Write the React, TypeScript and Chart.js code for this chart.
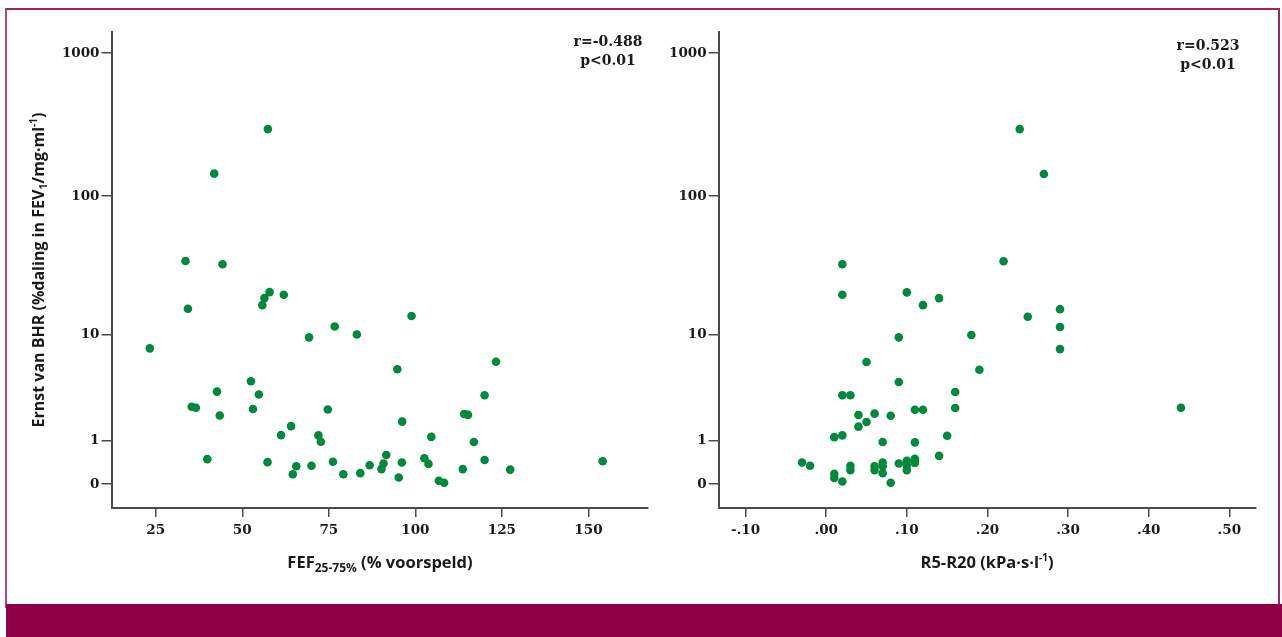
import React, { useEffect, useRef } from "react";
import { Chart, registerables } from "chart.js";

Chart.register(...registerables);

// ---------- data ----------
const yTickValues = [0, 1, 10, 100, 1000];
const yTickLabels = ["0", "1", "10", "100", "1000"];

const fefTicks = [25, 50, 75, 100, 125, 150];
const fefTickLabels = ["25", "50", "75", "100", "125", "150"];

const r5Ticks = [-0.1, 0, 0.1, 0.2, 0.3, 0.4, 0.5];
const r5TickLabels = ["-.10", ".00", ".10", ".20", ".30", ".40", ".50"];

// FEF25-75% (% voorspeld) vs Ernst van BHR
const fefX = [57.4, 41.9, 33.6, 44.3, 57.9, 56.4, 55.8, 62.0, 34.3, 98.9, 76.7, 69.3, 83.1, 23.3, 52.5, 42.7, 54.8, 35.4, 36.6, 43.5, 53.1, 74.7, 64.1, 61.2, 72.0, 72.7, 39.9, 57.3, 65.6, 64.6, 70.0, 76.2, 79.2, 84.1, 86.8, 94.8, 123.3, 120.0, 96.2, 114.1, 115.2, 104.6, 116.9, 91.6, 90.8, 90.2, 96.1, 95.2, 102.6, 103.8, 106.8, 108.3, 113.7, 120.0, 127.4, 154.1];
const fefY = [295, 144, 34.7, 32.9, 20.7, 18.7, 16.6, 19.8, 15.6, 13.8, 11.5, 9.5, 10.0, 7.8, 4.2, 3.4, 3.2, 2.45, 2.4, 2.0, 2.33, 2.3, 1.53, 1.19, 1.18, 0.97, 0.49, 0.42, 0.33, 0.17, 0.34, 0.43, 0.17, 0.19, 0.35, 5.3, 6.1, 3.15, 1.72, 2.07, 2.03, 1.13, 0.96, 0.59, 0.39, 0.27, 0.41, 0.11, 0.51, 0.38, 0.054, 0.02, 0.27, 0.47, 0.26, 0.44];

// R5-R20 (kPa·s·l-1) vs Ernst van BHR
const r5X = [0.24, 0.27, 0.02, 0.02, 0.22, 0.10, 0.12, 0.14, 0.25, 0.29, 0.29, 0.18, 0.29, 0.19, 0.44, 0.09, 0.05, 0.09, 0.02, 0.03, 0.16, 0.16, 0.11, 0.12, 0.04, 0.06, 0.08, 0.05, 0.04, 0.01, 0.02, 0.07, 0.11, 0.15, 0.14, -0.03, -0.02, 0.01, 0.01, 0.02, 0.03, 0.03, 0.06, 0.06, 0.07, 0.07, 0.07, 0.08, 0.09, 0.10, 0.10, 0.11, 0.11, 0.10, 0.11];
const r5Y = [295, 143, 32.9, 19.8, 34.6, 20.6, 16.6, 18.7, 13.6, 15.5, 11.4, 9.9, 7.7, 5.25, 2.4, 9.5, 6.07, 4.13, 3.15, 3.15, 3.37, 2.38, 2.29, 2.29, 2.02, 2.09, 1.99, 1.70, 1.51, 1.12, 1.18, 0.96, 0.95, 1.17, 0.57, 0.41, 0.34, 0.18, 0.10, 0.04, 0.34, 0.25, 0.33, 0.25, 0.41, 0.33, 0.19, 0.02, 0.39, 0.45, 0.25, 0.45, 0.40, 0.35, 0.5];

const leftStats = ["r=-0.488", "p<0.01"];
const rightStats = ["r=0.523", "p<0.01"];

// ---------- styling ----------
const GREEN = "#00893c";
const AXIS = "#4a4a4a";
const TEXT = "#1a1a1a";
const MAROON = "#900048";
const TICK_FONT = "'DejaVu Serif'";
const TITLE_FONT = "'Open Sans'";

// log10(v + 1) transform used by the y axis
const tf = (v: number) => Math.log10(v + 1);

type Seg = { t: string; size: number; dy: number };

function drawRich(ctx: CanvasRenderingContext2D, segs: Seg[], cx: number, baseline: number, weight: string, family: string) {
  let total = 0;
  const widths = segs.map((s) => {
    ctx.font = `${weight} ${s.size}px ${family}`;
    const w = ctx.measureText(s.t).width;
    total += w;
    return w;
  });
  let x = cx - total / 2;
  ctx.textBaseline = "alphabetic";
  ctx.textAlign = "left";
  segs.forEach((s, i) => {
    ctx.font = `${weight} ${s.size}px ${family}`;
    ctx.fillText(s.t, x, baseline + s.dy);
    x += widths[i];
  });
}

type PanelOpts = {
  xs: number[];
  ys: number[];
  xMin: number;
  xMax: number;
  xTicks: number[];
  xLabels: string[];
  yAxisWidth: number;
  padRight: number;
  drawText: (ctx: CanvasRenderingContext2D) => void;
};

function makeConfig(o: PanelOpts): any {
  const tickFont = { family: TICK_FONT, size: 13.5, weight: "bold" as const };
  return {
    type: "scatter",
    data: {
      datasets: [
        {
          data: o.xs.map((x, i) => ({ x, y: tf(o.ys[i]) })),
          backgroundColor: GREEN,
          borderWidth: 0,
          pointRadius: 4.3,
          pointHoverRadius: 4.3,
        },
      ],
    },
    options: {
      responsive: false,
      animation: false,
      events: [],
      layout: { padding: { left: 0, top: 32, right: o.padRight, bottom: 0 } },
      plugins: { legend: { display: false }, tooltip: { enabled: false } },
      scales: {
        x: {
          type: "linear",
          min: o.xMin,
          max: o.xMax,
          afterFit: (s: any) => {
            s.height = 96;
          },
          afterBuildTicks: (s: any) => {
            s.ticks = o.xTicks.map((v) => ({ value: v }));
          },
          ticks: {
            callback: (_v: any, i: number) => o.xLabels[i],
            font: tickFont,
            color: TEXT,
            padding: 5,
            maxRotation: 0,
            autoSkip: false,
          },
          grid: {
            display: true,
            drawOnChartArea: false,
            drawTicks: true,
            tickLength: 9,
            color: AXIS,
            lineWidth: 1.5,
          },
          border: { display: true, color: AXIS, width: 2 },
        },
        y: {
          type: "linear",
          min: -0.1671,
          max: 3.1476,
          afterFit: (s: any) => {
            s.width = o.yAxisWidth;
          },
          afterBuildTicks: (s: any) => {
            s.ticks = yTickValues.map((v) => ({ value: tf(v) }));
          },
          ticks: {
            callback: (_v: any, i: number) => yTickLabels[i],
            font: tickFont,
            color: TEXT,
            padding: 2,
            autoSkip: false,
          },
          grid: {
            display: true,
            drawOnChartArea: false,
            drawTicks: true,
            tickLength: 10,
            color: AXIS,
            lineWidth: 1.5,
          },
          border: { display: true, color: AXIS, width: 2 },
        },
      },
    },
    plugins: [
      {
        id: "texts",
        afterDraw: (chart: any) => {
          const ctx = chart.ctx as CanvasRenderingContext2D;
          ctx.save();
          ctx.fillStyle = TEXT;
          o.drawText(ctx);
          ctx.restore();
        },
      },
    ],
  };
}

function drawStats(ctx: CanvasRenderingContext2D, lines: string[], cx: number, b1: number, b2: number) {
  ctx.font = `bold 14px ${TICK_FONT}`;
  ctx.textAlign = "center";
  ctx.textBaseline = "alphabetic";
  ctx.fillText(lines[0], cx, b1);
  ctx.fillText(lines[1], cx, b2);
}

const LEFT_W = 660;
const RIGHT_W = 622;
const CANVAS_H = 604;

export default function App() {
  const leftRef = useRef<HTMLCanvasElement>(null);
  const rightRef = useRef<HTMLCanvasElement>(null);

  useEffect(() => {
    const left = new Chart(
      leftRef.current as HTMLCanvasElement,
      makeConfig({
        xs: fefX,
        ys: fefY,
        xMin: 12.23,
        xMax: 167.2,
        xTicks: fefTicks,
        xLabels: fefTickLabels,
        yAxisWidth: 111.5,
        padRight: LEFT_W - 648,
        drawText: (ctx) => {
          drawStats(ctx, leftStats, 608, 46, 65);
          // x-axis title
          ctx.fillStyle = TEXT;
          drawRich(
            ctx,
            [
              { t: "FEF", size: 16.5, dy: 0 },
              { t: "25-75%", size: 12, dy: 4 },
              { t: " (% voorspeld)", size: 16.5, dy: 0 },
            ],
            380,
            568,
            "bold",
            TITLE_FONT
          );
          // y-axis title
          ctx.save();
          ctx.translate(44, 270);
          ctx.rotate(-Math.PI / 2);
          drawRich(
            ctx,
            [
              { t: "Ernst van BHR (%daling in FEV", size: 16, dy: 0 },
              { t: "1", size: 11, dy: 3 },
              { t: "/mg·ml", size: 16, dy: 0 },
              { t: "-1", size: 10, dy: -7 },
              { t: ")", size: 16, dy: 0 },
            ],
            0,
            0,
            "bold",
            TITLE_FONT
          );
          ctx.restore();
        },
      })
    );
    const right = new Chart(
      rightRef.current as HTMLCanvasElement,
      makeConfig({
        xs: r5X,
        ys: r5Y,
        xMin: -0.1335,
        xMax: 0.5325,
        xTicks: r5Ticks,
        xLabels: r5TickLabels,
        yAxisWidth: 718.6 - LEFT_W,
        padRight: LEFT_W + RIGHT_W - 1255.5,
        drawText: (ctx) => {
          drawStats(ctx, rightStats, 1208 - LEFT_W, 50, 69);
          drawRich(
            ctx,
            [
              { t: "R5-R20 (kPa·s·l", size: 16.5, dy: 0 },
              { t: "-1", size: 10, dy: -7 },
              { t: ")", size: 16.5, dy: 0 },
            ],
            987 - LEFT_W,
            568,
            "bold",
            TITLE_FONT
          );
        },
      })
    );
    return () => {
      left.destroy();
      right.destroy();
    };
  }, []);

  return (
    <div
      style={{
        position: "fixed",
        left: 0,
        top: 0,
        width: 1282,
        height: 637,
        background: "#ffffff",
        overflow: "hidden",
      }}
    >
      <div
        style={{
          position: "absolute",
          left: 5,
          top: 8,
          width: 1275,
          height: 600,
          borderTop: "2px solid #98285f",
          borderLeft: "2px solid #b04a80",
          borderRight: "2px solid #98285f",
          boxSizing: "border-box",
        }}
      />
      <div
        style={{
          position: "absolute",
          left: 6,
          top: 604,
          width: 1276,
          height: 33,
          background: MAROON,
        }}
      />
      <canvas
        ref={leftRef}
        width={LEFT_W}
        height={CANVAS_H}
        style={{ position: "absolute", left: 0, top: 0, width: LEFT_W, height: CANVAS_H }}
      />
      <canvas
        ref={rightRef}
        width={RIGHT_W}
        height={CANVAS_H}
        style={{ position: "absolute", left: LEFT_W, top: 0, width: RIGHT_W, height: CANVAS_H }}
      />
    </div>
  );
}
